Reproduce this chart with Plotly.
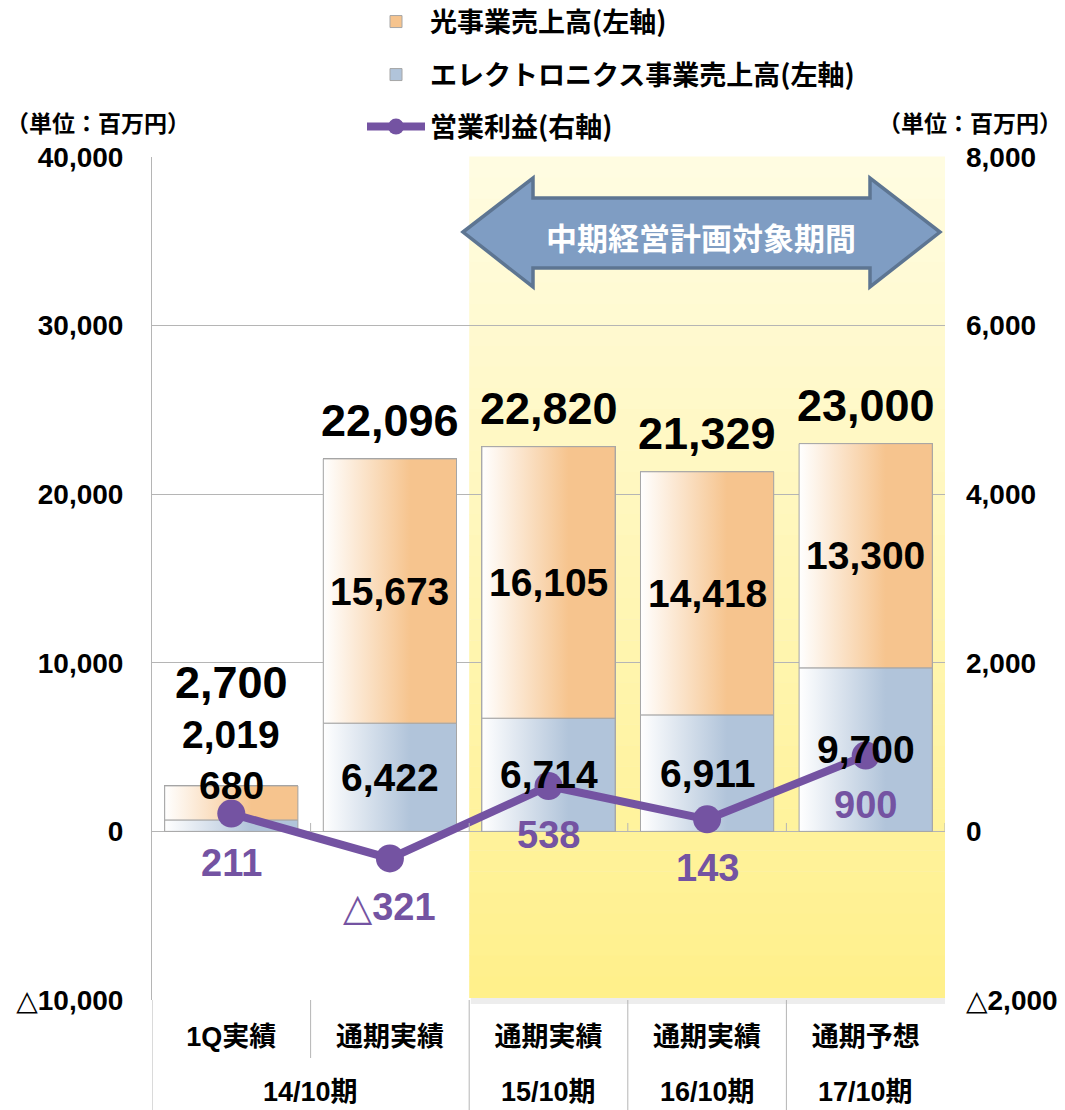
import plotly.graph_objects as go

# ---------------- data ----------------
periods = ["14/10期", "14/10期", "15/10期", "16/10期", "17/10期"]
kinds = ["1Q実績", "通期実績", "通期実績", "通期実績", "通期予想"]
hikari = [2019, 15673, 16105, 14418, 13300]          # 光事業売上高
electronics = [680, 6422, 6714, 6911, 9700]         # エレクトロニクス事業売上高
totals = [2700, 22096, 22820, 21329, 23000]         # 売上高合計
op_profit = [211, -321, 538, 143, 900]              # 営業利益
left_ticks = [-10000, 0, 10000, 20000, 30000, 40000]
right_ticks = [-2000, 0, 2000, 4000, 6000, 8000]
plan_start_index = 2                                # 中期経営計画対象期間 starts here

name_hikari = "光事業売上高(左軸)"
name_elec = "エレクトロニクス事業売上高(左軸)"
name_profit = "営業利益(右軸)"
unit_text = "（単位：百万円）"
arrow_text = "中期経営計画対象期間"

# ---------------- styles ----------------
W, H = 1065, 1110
L, R, T, B = 152, 945, 157, 1000
ORANGE = "#F6C48E"
BLUE = "#B1C4DA"
PURPLE = "#7453A2"
GRID = "#B5B5B5"
EDGE = "#A6A6A6"
NUM_FONT = "Liberation Sans, Arial, DejaVu Sans, Noto Sans CJK JP"
JP_FONT = "Noto Sans CJK JP, Liberation Sans, sans-serif"
BAR_W = 0.84


def px_x(px):
    return (px - L) / (R - L)


def px_y(py):
    return (B - py) / (B - T)


def fmt(v):
    return ("△{:,}".format(-v)) if v < 0 else "{:,}".format(v)


xs = list(range(len(kinds)))

fig = go.Figure()

# real stacked bars (covered visually by the gradient fills below)
fig.add_trace(go.Bar(x=xs, y=electronics, name=name_elec, width=BAR_W,
                     marker=dict(color=BLUE, line=dict(color=EDGE, width=1)),
                     legend="legend2", hoverinfo="skip"))
fig.add_trace(go.Bar(x=xs, y=hikari, name=name_hikari, width=BAR_W,
                     marker=dict(color=ORANGE, line=dict(color=EDGE, width=1)),
                     legend="legend", hoverinfo="skip"))

# gradient fills for each bar segment, built from the same arrays
for i in xs:
    x0, x1 = i - BAR_W / 2, i + BAR_W / 2
    segs = [(0, electronics[i], BLUE), (electronics[i], electronics[i] + hikari[i], ORANGE)]
    for y0, y1, col in segs:
        fig.add_trace(go.Scatter(
            x=[x0, x1, x1, x0, x0], y=[y0, y0, y1, y1, y0],
            mode="lines", fill="toself",
            fillgradient=dict(type="horizontal",
                              colorscale=[[0, "#FFFFFF"], [0.65, col], [1, col]]),
            line=dict(color=EDGE, width=1),
            showlegend=False, hoverinfo="skip"))

# operating profit line
fig.add_trace(go.Scatter(x=xs, y=op_profit, name=name_profit, yaxis="y2",
                         mode="lines+markers",
                         line=dict(color=PURPLE, width=8),
                         marker=dict(size=28, color=PURPLE),
                         legend="legend3", hoverinfo="skip"))

annotations = []
bold = "bold"
TOT_SIZE, SEG_SIZE, PRO_SIZE = 45, 39, 38


def ann(**kw):
    base = dict(showarrow=False, xanchor="center", yanchor="middle")
    base.update(kw)
    return base


for i in xs:
    if totals[i] < 5000:
        # small bar: labels stacked above the bar
        annotations += [
            ann(x=i, y=totals[i], xref="x", yref="y", text=fmt(electronics[i]), yshift=0,
                font=dict(size=SEG_SIZE, family=NUM_FONT, weight=bold, color="black")),
            ann(x=i, y=totals[i], xref="x", yref="y", text=fmt(hikari[i]), yshift=51,
                font=dict(size=SEG_SIZE, family=NUM_FONT, weight=bold, color="black")),
            ann(x=i, y=totals[i], xref="x", yref="y", text=fmt(totals[i]), yshift=103,
                font=dict(size=TOT_SIZE, family=NUM_FONT, weight=bold, color="black")),
        ]
    else:
        annotations += [
            ann(x=i, y=electronics[i] / 2, xref="x", yref="y", text=fmt(electronics[i]),
                font=dict(size=SEG_SIZE, family=NUM_FONT, weight=bold, color="black")),
            ann(x=i, y=electronics[i] + hikari[i] / 2, xref="x", yref="y", text=fmt(hikari[i]),
                font=dict(size=SEG_SIZE, family=NUM_FONT, weight=bold, color="black")),
            ann(x=i, y=totals[i], xref="x", yref="y", text=fmt(totals[i]), yshift=38,
                font=dict(size=TOT_SIZE, family=NUM_FONT, weight=bold, color="black")),
        ]
    annotations.append(ann(x=i, y=op_profit[i], xref="x", yref="y2", text=fmt(op_profit[i]),
                           yshift=-49,
                           font=dict(size=PRO_SIZE, family=NUM_FONT, weight=bold, color=PURPLE)))

# second row of category labels (fiscal periods)
groups = []
for i, p in enumerate(periods):
    if groups and groups[-1][0] == p:
        groups[-1][1].append(i)
    else:
        groups.append((p, [i]))
for p, idx in groups:
    annotations.append(ann(x=sum(idx) / len(idx), y=px_y(1092), xref="x", yref="paper",
                           text=p,
                           font=dict(size=27, family=NUM_FONT, weight=bold, color="black")))

# unit labels
for cx in (98, 970):
    annotations.append(ann(x=px_x(cx), y=px_y(122), xref="paper", yref="paper",
                           text=unit_text,
                           font=dict(size=23, family=JP_FONT, weight=bold, color="black")))

# arrow label
annotations.append(ann(x=px_x(701), y=px_y(236), xref="paper", yref="paper",
                       text=arrow_text,
                       font=dict(size=31, family=JP_FONT, weight=bold, color="white")))

shapes = []
# shaded plan period panel with vertical gradient (strips)
px0 = plan_start_index - 0.5
px1 = len(xs) - 0.5 + 0.02
shapes.append(dict(type="rect", xref="x", yref="paper", x0=px0 + 0.01, x1=px1 + 0.025,
                   y0=px_y(1004), y1=px_y(159), fillcolor="rgba(0,0,0,0.07)",
                   line=dict(width=0), layer="below"))
n = 40
top_c = (255, 252, 226)
bot_c = (255, 240, 138)
for k in range(n):
    t = (k + 0.5) / n
    c = tuple(int(round(top_c[j] + (bot_c[j] - top_c[j]) * t)) for j in range(3))
    ya = px_y(157) - (px_y(157) - px_y(998)) * k / n
    yb = px_y(157) - (px_y(157) - px_y(998)) * (k + 1) / n
    shapes.append(dict(type="rect", xref="x", yref="paper", x0=px0, x1=px1,
                       y0=yb, y1=ya + 0.0005, fillcolor="rgb(%d,%d,%d)" % c,
                       line=dict(width=0), layer="below"))

# category dividers below the axis
for i in range(len(xs)):
    xb = i - 0.5
    if i == 0 or periods[i] != periods[i - 1]:
        y_end = px_y(1110)
    else:
        y_end = px_y(1058)
    shapes.append(dict(type="line", xref="x", yref="paper", x0=xb, x1=xb,
                       y0=0, y1=y_end, line=dict(color=GRID, width=1)))

# small tick marks on the zero line
for i in range(1, len(xs) + 1):
    xb = i - 0.5
    shapes.append(dict(type="line", xref="x", yref="y", x0=xb, x1=xb, y0=0, y1=500,
                       line=dict(color=GRID, width=1)))

# double-headed arrow
pts = [(463, 232), (533, 178), (533, 198), (870, 198), (870, 178), (940, 232),
       (870, 287), (870, 268), (533, 268), (533, 287)]
path = "M " + " L ".join("%.5f,%.5f" % (px_x(a), px_y(b)) for a, b in pts) + " Z"
shapes.append(dict(type="path", xref="paper", yref="paper", path=path,
                   fillcolor="#7F9DC3", line=dict(color="#5D7592", width=3.5),
                   layer="above"))

legend_font = dict(size=27, family=JP_FONT, weight=bold, color="black")
leg_common = dict(xanchor="left", yanchor="middle", bgcolor="rgba(0,0,0,0)",
                  font=legend_font, itemwidth=58, x=px_x(362))

fig.update_layout(
    width=W, height=H,
    margin=dict(l=L, r=W - R, t=T, b=H - B, autoexpand=False),
    paper_bgcolor="white", plot_bgcolor="white",
    barmode="stack",
    showlegend=True,
    legend=dict(**leg_common, y=px_y(22)),
    legend2=dict(**leg_common, y=px_y(75)),
    legend3=dict(**leg_common, y=px_y(127)),
    xaxis=dict(range=[-0.5, len(xs) - 0.5], tickvals=xs, ticktext=kinds,
               showgrid=False, zeroline=False, showline=False, ticks="",
               ticklabelstandoff=18,
               tickfont=dict(size=27, family=NUM_FONT, weight=bold, color="black")),
    yaxis=dict(range=[left_ticks[0], left_ticks[-1]], tickvals=left_ticks,
               ticktext=[fmt(v) for v in left_ticks],
               showgrid=True, gridcolor=GRID, gridwidth=1, zeroline=False,
               showline=True, linecolor=GRID, linewidth=1, ticks="",
               ticklabelstandoff=22,
               tickfont=dict(size=28, family=NUM_FONT, weight=bold, color="black")),
    yaxis2=dict(range=[right_ticks[0], right_ticks[-1]], tickvals=right_ticks,
                ticktext=[fmt(v) for v in right_ticks],
                overlaying="y", side="right", showgrid=False, zeroline=False,
                showline=False, ticks="", ticklabelstandoff=20,
                tickfont=dict(size=28, family=NUM_FONT, weight=bold, color="black")),
    annotations=annotations,
    shapes=shapes,
)

fig.write_html("out.html",
               config={"displayModeBar": False},
               post_script="document.body.style.margin='0';document.body.style.overflow='hidden';")
